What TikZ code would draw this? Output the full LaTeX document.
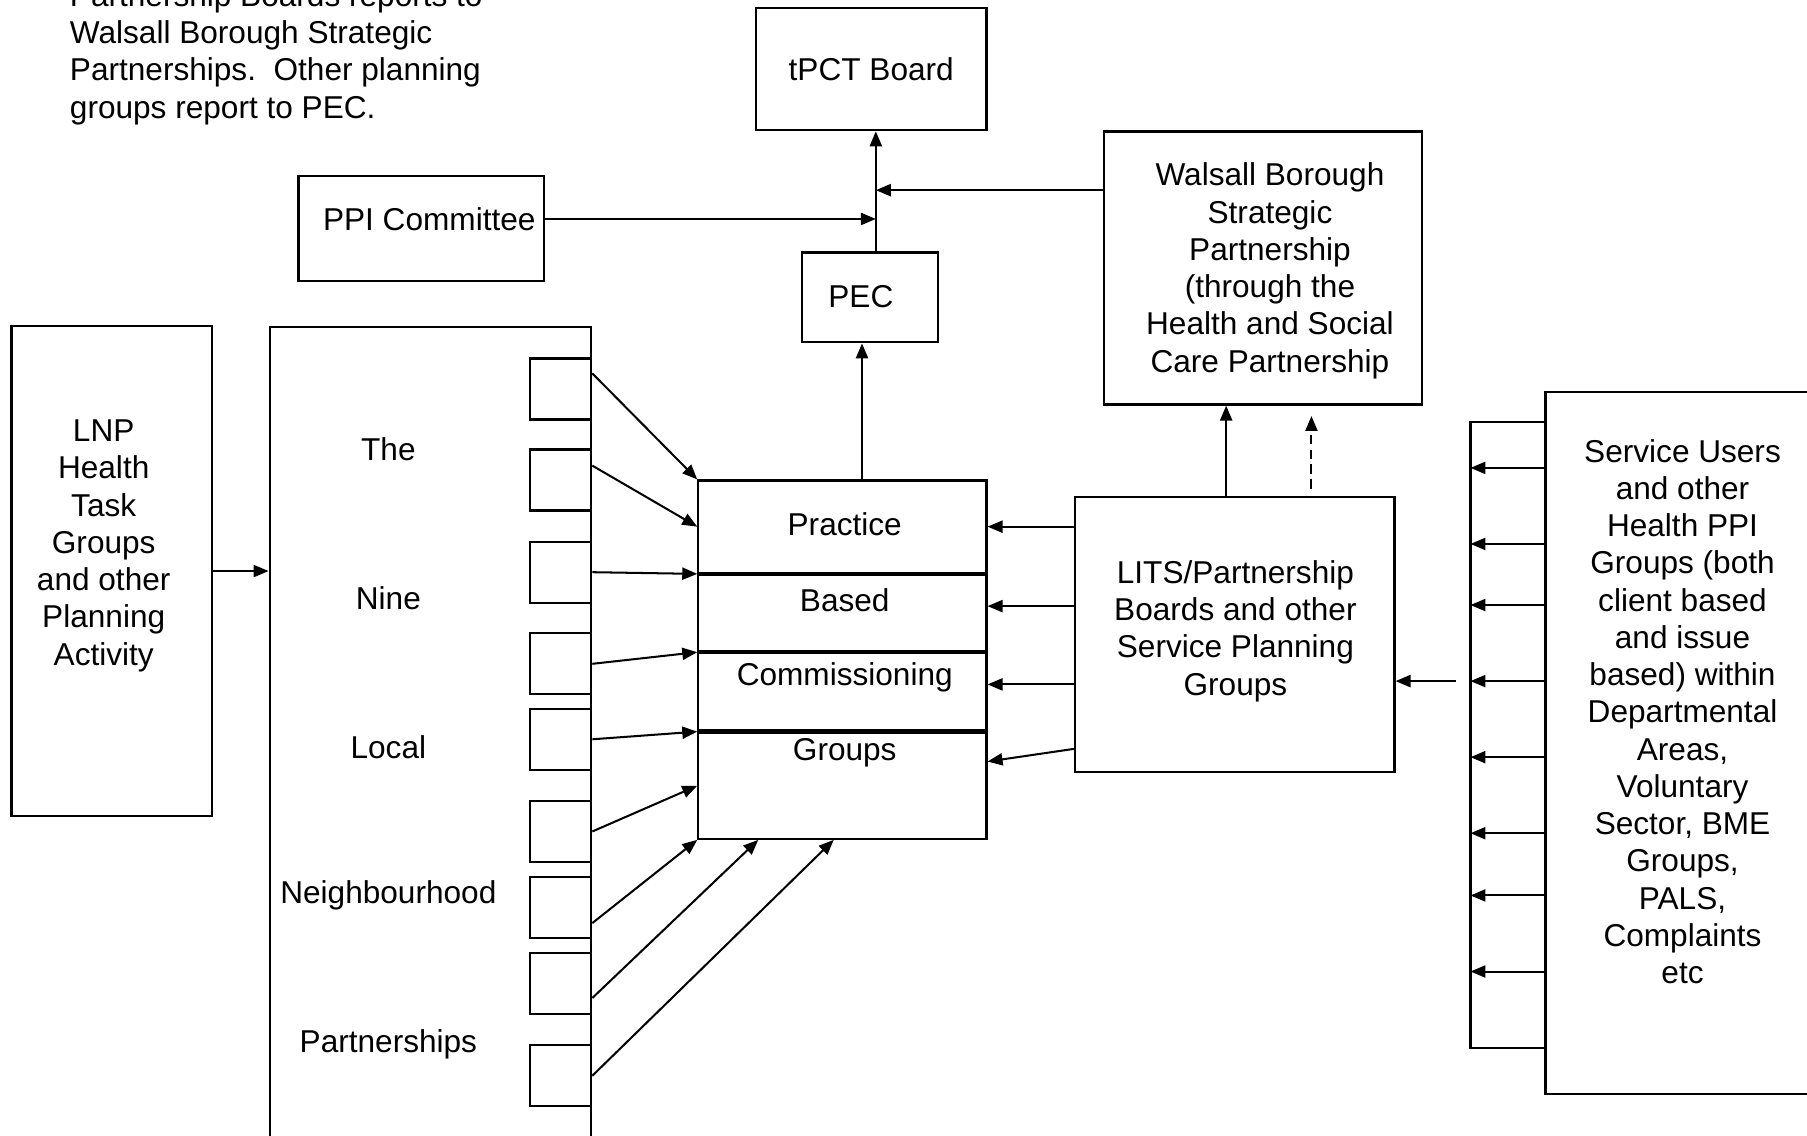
\documentclass[tikz,border=0pt]{standalone}
\usepackage{fontspec}
\setmainfont{Liberation Sans}
\usepackage{tikz}
\usetikzlibrary{arrows.meta,positioning,calc}
\newcommand{\diagfont}{\fontsize{7.8}{9.2}\selectfont}

\begin{document}
\begin{tikzpicture}[x=0.1mm, y=-0.1mm,
    box/.style={draw, line width=0.55pt, inner sep=0pt, align=center, font=\diagfont},
    txt/.style={align=center, inner sep=0pt, font=\diagfont},
    arr/.style={line width=0.5pt, -{Triangle[length=1.3mm, width=1.05mm]}}]
  \useasboundingbox (0,0) rectangle (1568,985);
  % note at the top left (first line cut by the page)
  \node[txt, align=left, anchor=west] (note) at (60,47) {Partnership Boards reports to\\Walsall Borough Strategic\\Partnerships.\ \ Other planning\\groups report to PEC.};
  % board and committees
  \node[box, minimum width=20mm, minimum height=10.6mm] (tpct) at (756,60) {tPCT Board};
  \node[box, minimum width=21.3mm, minimum height=9.1mm] (ppi) at (365.5,198.5) {};
  \node[txt] at ([shift={(7,-8.5)}]ppi.center) {PPI Committee};
  \node[box, minimum width=11.8mm, minimum height=7.8mm] (pec) at (755,258) {};
  \node[txt] at ([shift={(-8,-1)}]pec.center) {PEC};
  \node[box, minimum width=27.6mm, minimum height=23.7mm] (wbsp) at (1096,232.5) {};
  \node[txt] at ([shift={(6,2.5)}]wbsp.center) {Walsall Borough\\Strategic\\Partnership\\(through the\\Health and Social\\Care Partnership};
  % LNP side
  \node[box, minimum width=17.4mm, minimum height=42.5mm] (lnp) at (97,495.5) {};
  \node[txt] at ([shift={(-7,-22)}]lnp.center) {LNP\\Health\\Task\\Groups\\and other\\Planning\\Activity};
  \node[box, minimum width=27.9mm, minimum height=71.6mm] (nine) at (373.5,642) {};
  \foreach \w [count=\i] in {The,Nine,Local,Neighbourhood,Partnerships}
    \node[txt] (w\i) at (337,261+129*\i) {\w};
  \foreach \y [count=\i] in {337.5,416.5,496.5,576,641.5,721.5,787.5,853.5,933.5}
    \node[box, minimum size=5.3mm] (s\i) at (486.5,\y) {};
  % practice based commissioning groups
  \node[box, minimum width=25mm, minimum height=8mm] (r1) at (731,457) {};
  \node[box, minimum width=25mm, minimum height=6.6mm, below=0pt of r1] (r2) {};
  \node[box, minimum width=25mm, minimum height=6.7mm, below=0pt of r2] (r3) {};
  \node[box, minimum width=25mm, minimum height=9.2mm, below=0pt of r3] (r4) {};
  \node[txt] at ([shift={(2,39)}]r1.north) {Practice};
  \node[txt] at ([shift={(2,23)}]r2.north) {Based};
  \node[txt] at ([shift={(2,22)}]r3.north) {Commissioning};
  \node[txt] at ([shift={(2,18)}]r4.north) {Groups};
  % planning groups and service users
  \node[box, minimum width=27.7mm, minimum height=23.9mm] (lits) at (1071.5,550.5) {};
  \node[txt] at ([shift={(0.5,-3)}]lits.center) {LITS/Partnership\\Boards and other\\Service Planning\\Groups};
  \node[box, minimum width=23.9mm, minimum height=60.9mm] (su) at (1460.5,644.5) {};
  \node[txt] at ([shift={(-0.5,-27)}]su.center) {Service Users\\and other\\Health PPI\\Groups (both\\client based\\and issue\\based) within\\Departmental\\Areas,\\Voluntary\\Sector, BME\\Groups,\\PALS,\\Complaints\\etc};

  % reporting lines to the board
  \coordinate (spine) at ([xshift=0.5mm]pec.north);
  \draw[arr] (spine) -- (spine |- tpct.south);
  \draw[arr] ([yshift=0.85mm]ppi.east) -- ([yshift=0.85mm]ppi.east -| spine);
  \draw[arr] ([yshift=6.75mm]wbsp.west) -- ([yshift=6.75mm]wbsp.west -| spine);
  \draw[arr] ([xshift=-0.7mm]pec.south |- r1.north) -- ([xshift=-0.7mm]pec.south);
  \draw[arr] ([xshift=-0.75mm]lits.north) -- ([xshift=-0.75mm]lits.north |- wbsp.south);
  \draw[arr, dash pattern=on 0.8mm off 0.5mm] ([xshift=6.65mm, yshift=0.6mm]lits.north) -- ([xshift=6.65mm, yshift=-0.9mm]lits.north |- wbsp.south);
  % into the partnerships and the groups
  \draw[arr] (lnp.east) -- (lnp.east -| nine.west);
  \draw[arr] ([yshift=1.35mm]s1.east) -- (r1.north west);
  \draw[arr] ([yshift=1.25mm]s2.east) -- (r1.west);
  \draw[arr] (s3.east) -- (r2.north west);
  \draw[arr] (s4.east) -- (r3.north west);
  \draw[arr] (s5.east) -- (r4.north west);
  \draw[arr] (s6.east) -- (r4.west);
  \draw[arr] ([yshift=-1.35mm]s7.east) -- (r4.south west);
  \draw[arr] ([yshift=-1.25mm]s8.east) -- ($(r4.south west)!.21!(r4.south east)$);
  \draw[arr] (s9.east) -- ($(r4.south west)!.47!(r4.south east)$);
  % from the planning groups
  \draw[arr] (lits.west |- r1.east) -- (r1.east);
  \draw[arr] ([yshift=0.6mm]lits.west |- r2.east) -- ([yshift=0.6mm]r2.east);
  \draw[arr] ([yshift=0.65mm]lits.west |- r3.east) -- ([yshift=0.65mm]r3.east);
  \draw[arr] ([yshift=3.2mm]lits.west |- r4.east) -- ([yshift=2.1mm]r4.east);
  % service users bracket
  \coordinate (bt) at (1276,366);
  \coordinate (bb) at (1276,909);
  \draw[line width=0.5pt] (su.west |- bt) -- (bt) -- (bb) -- (su.west |- bb);
  \foreach \y in {406,472,525,591,657,723,777,843}
    \draw[arr] (su.west |- 0,\y) -- (bt |- 0,\y);
  \draw[arr] ([xshift=-1.3mm]bt |- 0,591) -- (lits.east |- 0,591);
\end{tikzpicture}
\end{document}
